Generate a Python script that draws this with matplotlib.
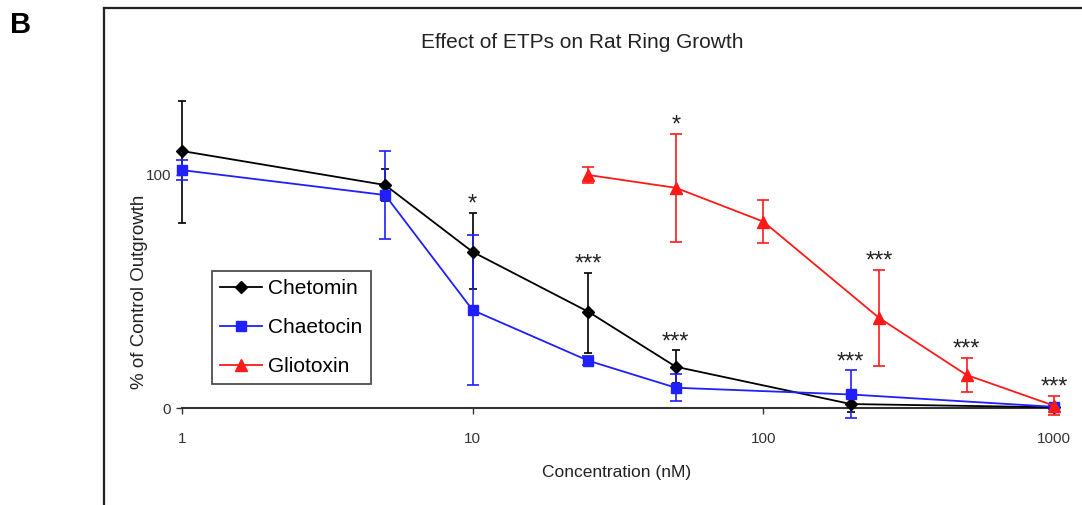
import matplotlib.pyplot as plt
from matplotlib.lines import Line2D

# values (% of control outgrowth vs nM)
chetomin_conc = [1, 5, 10, 25, 50, 200, 1000]
chetomin = [110.3, 95.7, 67.0, 41.3, 17.7, 1.7, 0.3]
chetomin_lo = [31.0, 7.0, 16.0, 17.6, 7.0, 3.5, 1.0]
chetomin_hi = [21.5, 7.0, 16.7, 16.7, 7.0, 2.0, 1.0]

chaetocin_conc = [1, 5, 10, 25, 50, 200, 1000]
chaetocin = [102.1, 91.4, 42.0, 20.3, 8.7, 5.8, 0.5]
chaetocin_err = [4.2, 18.9, 32.2, 2.0, 5.8, 10.3, 1.0]

gliotoxin_conc = [25, 50, 100, 250, 500, 1000]
gliotoxin = [100.0, 94.5, 80.0, 38.7, 14.2, 1.0]
gliotoxin_err = [3.5, 23.2, 9.3, 20.7, 7.3, 4.0]

# significance marks: (series, concentration, label)
sig_series = ["Chetomin", "Chetomin", "Chetomin", "Chaetocin",
              "Gliotoxin", "Gliotoxin", "Gliotoxin", "Gliotoxin"]
sig_conc = [10, 25, 50, 200, 50, 250, 500, 1000]
sig_labels = ["*", "***", "***", "***", "*", "***", "***", "***"]

plt.rcParams["font.family"] = ["Liberation Sans", "DejaVu Sans"]

fig = plt.figure(figsize=(10.82, 5.05), dpi=100)
ax = fig.add_axes([182 / 1082, 97 / 505, 872 / 1082, 349.5 / 505])

series = {
    "Chetomin": (chetomin_conc, chetomin, [chetomin_lo, chetomin_hi], "black", "D", 6, 3),
    "Chaetocin": (chaetocin_conc, chaetocin, chaetocin_err, "#1f1fff", "s", 7, 4.5),
    "Gliotoxin": (gliotoxin_conc, gliotoxin, gliotoxin_err, "#ff1a1a", "^", 8, 4.5),
}

tops = {}
handles = []
for name, (x, y, err, color, marker, ms, cap) in series.items():
    ax.errorbar(x, y, yerr=err, color=color, marker=marker, markersize=ms,
                linewidth=1.3, elinewidth=1.2, capsize=cap, capthick=1.2,
                clip_on=False, zorder=3)
    handles.append(Line2D([], [], color=color, marker=marker, markersize=ms,
                          linewidth=1.3, label=name))
    hi = err[1] if isinstance(err[0], list) else err
    tops[name] = {c: v + e for c, v, e in zip(x, y, hi)}

for name, c, lab in zip(sig_series, sig_conc, sig_labels):
    ax.annotate(lab, (c, tops[name][c]), xytext=(0, 6), textcoords="offset points",
                ha="center", va="center", fontsize=17, color="#222222")

ax.set_xscale("log")
ax.set_xlim(1, 1000)
ax.set_ylim(0, 150)
ax.set_xticks([1, 10, 100, 1000])
ax.set_xticklabels(["1", "10", "100", "1000"])
ax.minorticks_off()
ax.set_yticks([0, 100])
ax.tick_params(axis="x", direction="out", length=4, width=1, pad=13, labelsize=11, colors="#333333")
ax.tick_params(axis="y", direction="out", length=4, width=1, pad=4, labelsize=11, colors="#333333")
for s in ["top", "right", "left"]:
    ax.spines[s].set_visible(False)
ax.spines["bottom"].set_linewidth(1.5)
ax.spines["bottom"].set_color("#333333")

fig.text(582 / 1082, 1 - 43 / 505, "Effect of ETPs on Rat Ring Growth", fontsize=15,
         color="#222222", ha="center", va="center")
fig.text(617 / 1082, 1 - 473 / 505, "Concentration (nM)", ha="center", va="center",
         fontsize=12.5, color="#222222")
fig.text(140 / 1082, 1 - 292 / 505, "% of Control Outgrowth", ha="center", va="center",
         rotation=90, fontsize=13.5, color="#222222")

leg = ax.legend(handles=handles, loc="upper left", bbox_to_anchor=(212 / 1082, 1 - 271 / 505),
                bbox_transform=fig.transFigure, borderaxespad=0, fontsize=15,
                frameon=True, fancybox=False, handlelength=2.0, handletextpad=0.3,
                labelspacing=0.95, borderpad=0.4)
leg.get_frame().set_edgecolor("#222222")
leg.get_frame().set_linewidth(1.3)

# panel frame and label
fig.add_artist(Line2D([104 / 1082, 104 / 1082], [0, 1 - 8 / 505], color="#222222", linewidth=1.6))
fig.add_artist(Line2D([104 / 1082, 1], [1 - 8 / 505, 1 - 8 / 505], color="#222222", linewidth=1.6))
fig.text(21 / 1082, 1 - 25 / 505, "B", fontsize=21, fontweight="bold", ha="center", va="center")

fig.savefig("out.png", dpi=100)
